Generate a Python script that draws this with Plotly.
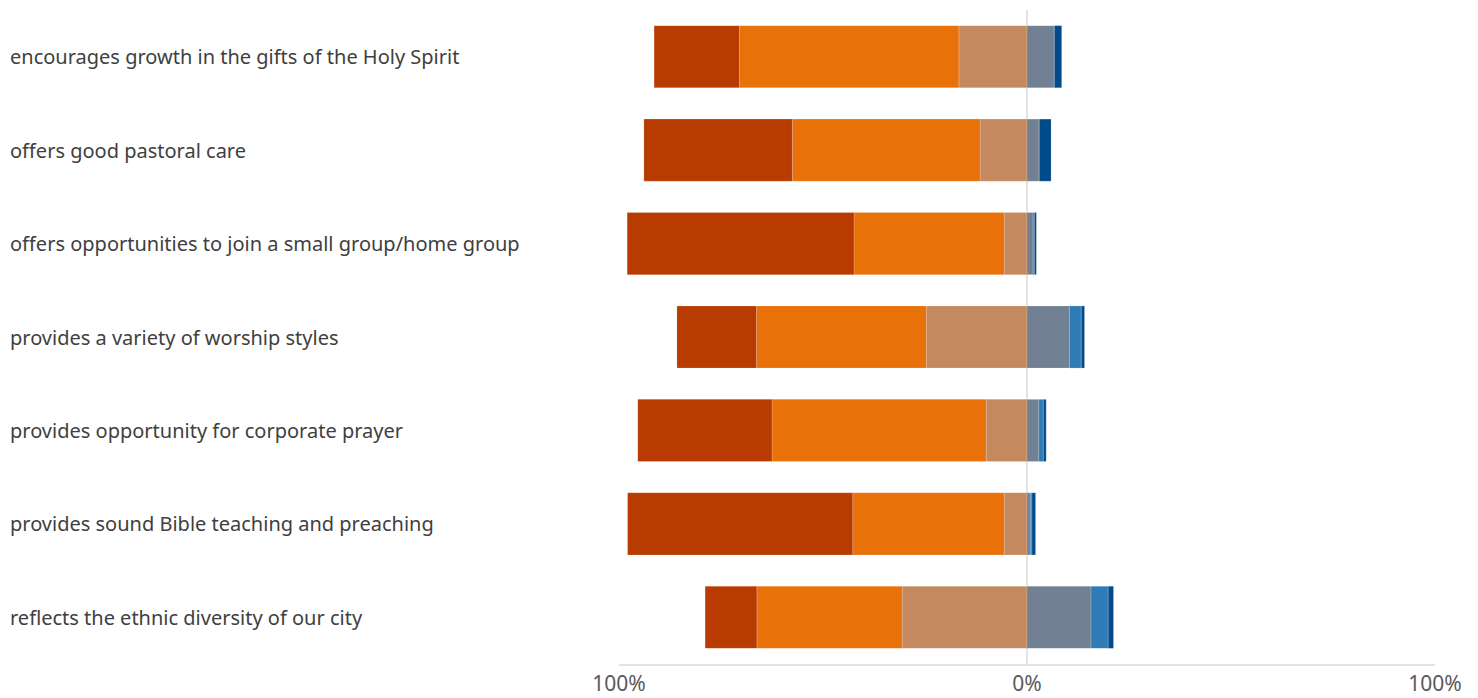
import plotly.graph_objects as go

categories = [
    "encourages growth in the gifts of the Holy Spirit",
    "offers good pastoral care",
    "offers opportunities to join a small group/home group",
    "provides a variety of worship styles",
    "provides opportunity for corporate prayer",
    "provides sound Bible teaching and preaching",
    "reflects the ethnic diversity of our city",
]

# left side (plotted negative), from outermost to innermost
dark_red = [20.9, 36.4, 55.6, 19.5, 32.9, 55.2, 12.7]
orange = [53.8, 46.0, 36.8, 41.6, 52.5, 37.1, 35.6]
tan = [16.7, 11.5, 5.6, 24.7, 10.0, 5.6, 30.6]
# right side, from innermost to outermost
slate = [6.7, 3.0, 1.5, 10.4, 2.9, 0.8, 15.7]
light_blue = [0.0, 0.0, 0.3, 2.9, 1.1, 0.4, 4.2]
dark_blue = [1.8, 2.9, 0.5, 0.8, 0.7, 0.9, 1.3]

tick_vals = [-100, 0, 100]
tick_text = ["100%", "0%", "100%"]

fig = go.Figure()

line = dict(color="rgba(255,255,255,0.35)", width=0.5)

# negative side: stack from zero outward (tan, orange, dark red)
for vals, col in [(tan, "#C4895E"), (orange, "#E8710A"), (dark_red, "#B83C02")]:
    fig.add_trace(go.Bar(y=categories, x=[-v for v in vals], orientation="h",
                         marker=dict(color=col, line=line), showlegend=False))
for vals, col in [(slate, "#718092"), (light_blue, "#2E7BB6"), (dark_blue, "#024B8A")]:
    fig.add_trace(go.Bar(y=categories, x=vals, orientation="h",
                         marker=dict(color=col, line=line), showlegend=False))

for c in categories:
    fig.add_annotation(x=-0.7488, xref="paper", y=c, yref="y", text=c,
                       showarrow=False, xanchor="left", yanchor="middle",
                       font=dict(family="Noto Sans", size=20, color="#404040"))

fig.update_layout(
    barmode="relative",
    bargap=0.335,
    width=1470, height=690,
    margin=dict(l=611, r=43, t=2, b=34),
    plot_bgcolor="white", paper_bgcolor="white",
    xaxis=dict(range=[-100, 100], tickvals=tick_vals, ticktext=tick_text,
               showgrid=True, gridcolor="#E3E3E3", gridwidth=1.5,
               zeroline=True, zerolinecolor="#E3E3E3", zerolinewidth=1.5,
               showline=True, linecolor="#E3E3E3", linewidth=1.5,
               ticklen=0, ticks="",
               tickfont=dict(family="Noto Sans", size=21, color="#595959"),
               fixedrange=True),
    yaxis=dict(autorange="reversed", showticklabels=False, showgrid=False,
               zeroline=False, fixedrange=True),
)

fig.write_html("out.html")
